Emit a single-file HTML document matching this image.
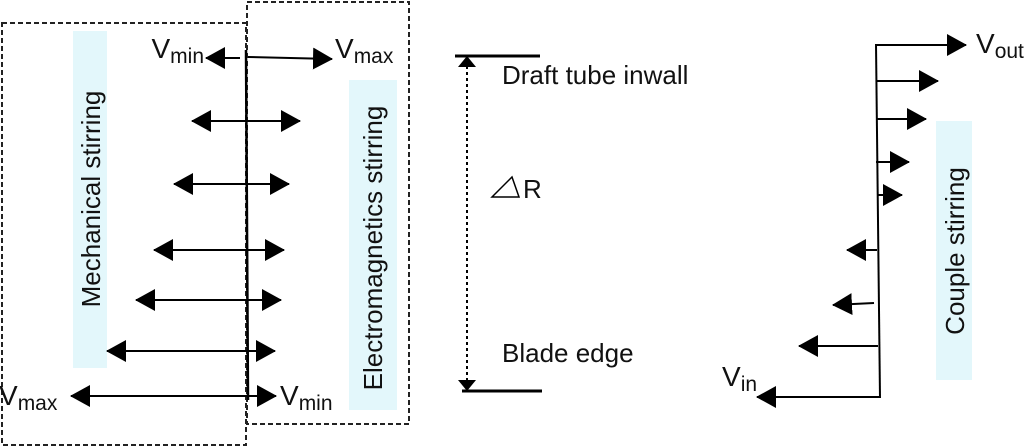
<!DOCTYPE html>
<html><head><meta charset="utf-8"><style>
html,body{margin:0;padding:0;background:#fff;}
svg{display:block;}
text{font-family:"Liberation Sans",Arial,sans-serif;fill:#111;}
.v{font-size:28px;}
.s{font-size:21px;}
.l{font-size:26px;}
</style></head><body>
<svg width="1024" height="448" viewBox="0 0 1024 448" xmlns="http://www.w3.org/2000/svg">
<defs>
<marker id="ah" markerWidth="20" markerHeight="22" refX="19" refY="11" orient="auto" markerUnits="userSpaceOnUse">
<path d="M0,0 L20,11 L0,22 Z" fill="#000"/>
</marker>
</defs>
<rect x="73" y="31" width="34" height="337" fill="#e3f7fb"/>
<rect x="349" y="80" width="48" height="330" fill="#e3f7fb"/>
<rect x="936" y="121" width="36" height="259" fill="#e3f7fb"/>
<rect x="2" y="23" width="244" height="422" fill="none" stroke="#222" stroke-width="2" stroke-dasharray="5,3"/>
<rect x="247" y="2" width="162" height="422" fill="none" stroke="#222" stroke-width="2" stroke-dasharray="5,3"/>
<line x1="246" y1="50" x2="248" y2="400" stroke="#000" stroke-width="2.5"/>
<g stroke="#000" stroke-width="2" fill="none">
<line x1="240" y1="58" x2="206" y2="58" marker-end="url(#ah)"/>
<line x1="248" y1="57" x2="332" y2="59" marker-end="url(#ah)"/>
<line x1="247" y1="121" x2="192" y2="121" marker-end="url(#ah)"/>
<line x1="247" y1="121" x2="300" y2="121" marker-end="url(#ah)"/>
<line x1="247" y1="184" x2="174" y2="184" marker-end="url(#ah)"/>
<line x1="247" y1="184" x2="289" y2="184" marker-end="url(#ah)"/>
<line x1="247" y1="250" x2="154" y2="250" marker-end="url(#ah)"/>
<line x1="247" y1="250" x2="284" y2="250" marker-end="url(#ah)"/>
<line x1="247" y1="300" x2="136" y2="300" marker-end="url(#ah)"/>
<line x1="247" y1="300" x2="281" y2="300" marker-end="url(#ah)"/>
<line x1="247" y1="351" x2="107" y2="351" marker-end="url(#ah)"/>
<line x1="247" y1="351" x2="275" y2="351" marker-end="url(#ah)"/>
<line x1="247" y1="396" x2="71" y2="396" marker-end="url(#ah)"/>
<line x1="247" y1="396" x2="276" y2="396" marker-end="url(#ah)"/>
</g>
<text x="204" y="58" class="v" text-anchor="end">V<tspan class="s" dy="5">min</tspan></text>
<text x="335" y="58" class="v">V<tspan class="s" dy="5">max</tspan></text>
<text x="-1" y="405" class="v">V<tspan class="s" dy="5">max</tspan></text>
<text x="280" y="405" class="v">V<tspan class="s" dy="5">min</tspan></text>
<text transform="translate(100,199) rotate(-90)" text-anchor="middle" class="l">Mechanical stirring</text>
<text transform="translate(382,248) rotate(-90)" text-anchor="middle" class="l">Electromagnetics stirring</text>
<line x1="455" y1="56" x2="540" y2="56" stroke="#000" stroke-width="3"/>
<line x1="462" y1="391" x2="542" y2="391" stroke="#000" stroke-width="3"/>
<line x1="467" y1="66" x2="467" y2="382" stroke="#000" stroke-width="2" stroke-dasharray="3,3"/>
<path d="M458,67 L467,56 L476,67 Z" fill="#000"/>
<path d="M458,380 L467,391 L476,380 Z" fill="#000"/>
<text x="502" y="84" class="l">Draft tube inwall</text>
<text x="502" y="362" class="l">Blade edge</text>
<path d="M492,197 L512,177 L519,197 Z" fill="none" stroke="#000" stroke-width="1.5"/>
<text x="523" y="198" class="l">R</text>
<line x1="876" y1="44" x2="880" y2="398" stroke="#000" stroke-width="2"/>
<g stroke="#000" stroke-width="2" fill="none">
<line x1="876" y1="45" x2="966" y2="45" marker-end="url(#ah)"/>
<line x1="876" y1="81" x2="938" y2="81" marker-end="url(#ah)"/>
<line x1="876" y1="119" x2="926" y2="119" marker-end="url(#ah)"/>
<line x1="876" y1="162" x2="909" y2="162" marker-end="url(#ah)"/>
<line x1="877" y1="195" x2="902" y2="195" marker-end="url(#ah)"/>
<line x1="877" y1="250" x2="847" y2="250" marker-end="url(#ah)"/>
<line x1="874" y1="303" x2="833" y2="305" marker-end="url(#ah)"/>
<line x1="878" y1="346" x2="799" y2="346" marker-end="url(#ah)"/>
<line x1="880" y1="397" x2="757" y2="397" marker-end="url(#ah)"/>
</g>
<text x="976" y="53" class="v">V<tspan class="s" dy="5">out</tspan></text>
<text x="722" y="386" class="v">V<tspan class="s" dy="5">in</tspan></text>
<text transform="translate(964,251) rotate(-90)" text-anchor="middle" style="font-size:26px">Couple stirring</text>
</svg>
</body></html>
